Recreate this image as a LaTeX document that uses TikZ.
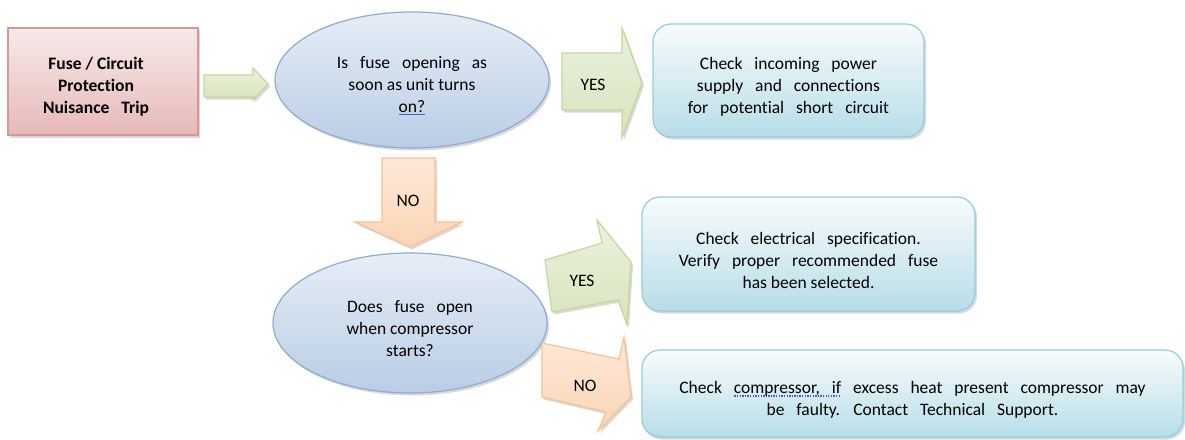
\documentclass[tikz,border=0pt]{standalone}
\usepackage{fontspec}
\setmainfont{Carlito}[Ligatures=NoCommon]
\usetikzlibrary{shapes.geometric, shadows}
\definecolor{pinkfill}{HTML}{E6B9B8}
\definecolor{pinkline}{HTML}{D99694}
\definecolor{bluefill}{HTML}{B9CDE5}
\definecolor{blueline}{HTML}{8EABD3}
\definecolor{cyanfill}{HTML}{B7DDE8}
\definecolor{cyanline}{HTML}{93CDDD}
\definecolor{greenfill}{HTML}{D7E4BD}
\definecolor{greenline}{HTML}{C3D69B}
\definecolor{orangefill}{HTML}{FBD4B4}
\definecolor{orangeline}{HTML}{FAC090}
\definecolor{spellblue}{HTML}{4A5BD8}
\newcommand*{\spread}[1]{{\spaceskip=.68em\relax#1}}
\newsavebox{\spellbox}
\newcommand*{\spelldots}[1]{\sbox{\spellbox}{#1}\rlap{\color{spellblue}\raisebox{-3.5pt}{\hbox to\wd\spellbox{\leaders\hbox to 2.6pt{\hss\rule{1.4pt}{1.2pt}\hss}\hfill}}}\usebox{\spellbox}}
\tikzset{
    softshadow/.style={drop shadow={shadow xshift=2pt, shadow yshift=-2.5pt, opacity=.3}},
    inside/.style={label={[yshift=-6pt]center:{#1}}},
    startbox/.style={draw=pinkline, line width=1.2pt, top color=pinkfill!30, bottom color=pinkfill, softshadow},
    question/.style={ellipse, draw=blueline, line width=1.2pt, top color=bluefill!35, bottom color=bluefill, softshadow, inner sep=0pt},
    answer/.style={draw=cyanline, line width=1.2pt, rounded corners=18pt, top color=cyanfill!10, bottom color=cyanfill, softshadow},
    greenarrow/.style={draw=greenline, line width=1.2pt, top color=greenfill!50, bottom color=greenfill, softshadow},
    orangearrow/.style={draw=orangeline, line width=1.2pt, top color=orangefill!50, bottom color=orangefill, softshadow}
}

\begin{document}
\begin{tikzpicture}[x=1pt, y=-1pt, every node/.style={font=\fontsize{17.5}{22}\selectfont, align=center}]
    \useasboundingbox(0, 0)rectangle(1185, 439);
    % boxes and questions
    \node[startbox, minimum width=190, minimum height=107, label={[xshift=-7pt, yshift=-5pt, font=\fontsize{17.5}{22}\selectfont\bfseries]center:{Fuse / Circuit\\Protection\\\spread{Nuisance Trip}}}](fuse)at(103, 81.5){};
    \node[question, minimum width=274, minimum height=136, inside={\spread{Is fuse opening as}\\soon as unit turns\\{\color{spellblue}\underline{\textcolor{black}{on?}}}}](opening)at(412, 80){};
    \node[question, minimum width=274, minimum height=140, inside={\spread{Does fuse open}\\when compressor\\starts?}](starts)at(410, 323){};
    \node[answer, minimum width=271, minimum height=113, inside={\spread{Check incoming power}\\\spread{supply and connections}\\\spread{for potential short circuit}}](power)at(788.5, 80.5){};
    \node[answer, minimum width=333, minimum height=114, inside={\spread{Check electrical specification.}\\\spread{Verify proper recommended fuse}\\has been selected.}](spec)at(808.5, 254){};
    \node[answer, minimum width=541, minimum height=87, inside={\spread{Check \spelldots{compressor, if} excess heat present compressor may}\\\spread{be faulty. Contact Technical Support.}}](comp)at(912.5, 393.5){};
    % block arrows
    \draw[greenarrow](204, 75)--(253, 75)--(253, 68)--(268, 84)--(253, 100)--(253, 97)--(204, 97)--cycle;
    \draw[greenarrow](562, 53)--(622, 53)--(622, 28)--(642, 83)--(622, 138)--(622, 110)--(562, 110)--cycle;
    \node(yes1)at(593, 85){YES};
    \draw[orangearrow](382, 158)--(435, 158)--(435, 222)--(462, 222)--(410, 247)--(355, 222)--(382, 222)--cycle;
    \node(no1)at(408, 201){NO};
    \draw[greenarrow](545, 260)--(602, 243)--(597, 220)--(631, 262)--(627, 325)--(618, 300)--(552, 312)--cycle;
    \node(yes2)at(582, 281){YES};
    \draw[orangearrow](542, 343)--(619, 359)--(624, 337)--(631, 397)--(598, 431)--(606, 412)--(542, 397)--cycle;
    \node(no2)at(585, 386){NO};
\end{tikzpicture}
\end{document}
